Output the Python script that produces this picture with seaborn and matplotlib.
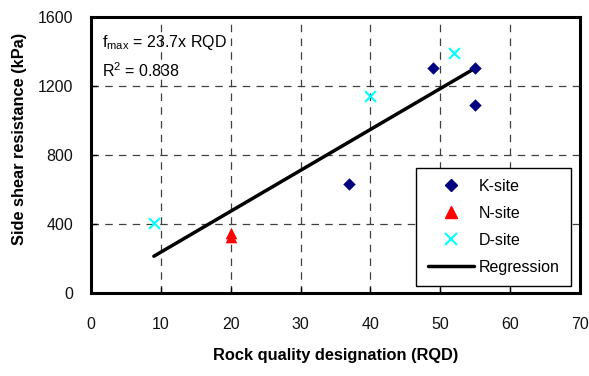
import matplotlib
matplotlib.use("Agg")
import matplotlib.pyplot as plt
import seaborn as sns
import pandas as pd
import numpy as np
from matplotlib.lines import Line2D

sns.set_theme(style="white")
plt.rcParams['font.family'] = ['Liberation Sans', 'DejaVu Sans']
plt.rcParams['mathtext.fontset'] = 'custom'
plt.rcParams['mathtext.rm'] = 'Liberation Sans'
plt.rcParams['text.color'] = 'black'
plt.rcParams['axes.labelcolor'] = 'black'

k_rqd = [37, 49, 55, 55]
k_fs = [630, 1305, 1305, 1090]
n_rqd = [20, 20]
n_fs = [325, 350]
d_rqd = [9, 40, 52]
d_fs = [408, 1140, 1392]
reg_slope = 23.7
reg_x = [9, 55]
x_ticks = [0, 10, 20, 30, 40, 50, 60, 70]
y_ticks = [0, 400, 800, 1200, 1600]

df = pd.DataFrame({
    "RQD": k_rqd + n_rqd + d_rqd,
    "fs": k_fs + n_fs + d_fs,
    "site": ["K-site"] * len(k_rqd) + ["N-site"] * len(n_rqd) + ["D-site"] * len(d_rqd),
})
reg_df = pd.DataFrame({"RQD": reg_x, "fs": [reg_slope * v for v in reg_x]})

fig = plt.figure(figsize=(5.89, 3.76), dpi=100)
ax = fig.add_axes([0.1545, 0.2207, 0.8302, 0.7341])

sns.lineplot(data=reg_df, x="RQD", y="fs", ax=ax, color="black", lw=2.5, zorder=2, legend=False)
colors = {"K-site": "#000080", "N-site": "#ff0000", "D-site": "#00ffff"}
markers = {"K-site": "D", "N-site": "^", "D-site": "x"}
sizes = {"K-site": 40, "N-site": 70, "D-site": 60}
for site in ["K-site", "N-site", "D-site"]:
    sub = df[df.site == site]
    sns.scatterplot(data=sub, x="RQD", y="fs", ax=ax, color=colors[site], marker=markers[site],
                    s=sizes[site], linewidth=1.5 if site == "D-site" else 0, zorder=3, legend=False)

ax.set_xlim(0, 70)
ax.set_ylim(0, 1600)
ax.set_xticks(x_ticks)
ax.set_yticks(y_ticks)
ax.grid(True, color="#404040", linestyle=(0, (6, 5)), linewidth=0.9)
for s in ax.spines.values():
    s.set_visible(True)
    s.set_color("black")
    s.set_linewidth(2.2)
ax.tick_params(axis="x", direction="in", length=4, width=1, pad=17, labelsize=11.5, colors="black", bottom=True)
ax.tick_params(axis="y", direction="in", length=4, width=1, pad=13, labelsize=11.5, colors="black", left=True)
for lbl in ax.get_xticklabels() + ax.get_yticklabels():
    lbl.set_color("#111111")

ax.set_xlabel("Rock quality designation (RQD)", fontsize=11.8, fontweight="bold", labelpad=12, color="black")
ax.set_ylabel("Side shear resistance (kPa)", fontsize=11.8, fontweight="bold", color="black")
ax.yaxis.set_label_coords(-0.13, 0.56)

ax.text(1.6, 1455, r"f$_{\mathregular{max}}$ = 23.7x RQD", fontsize=11.5, ha="left", va="center", color="black")
ax.text(1.6, 1287, r"R$^{2}$ = 0.838", fontsize=11.5, ha="left", va="center", color="black")

handles = [
    Line2D([], [], color=colors["K-site"], marker="D", linestyle="none", markersize=6),
    Line2D([], [], color=colors["N-site"], marker="^", linestyle="none", markersize=8),
    Line2D([], [], color=colors["D-site"], marker="x", linestyle="none", markersize=8, markeredgewidth=1.5),
    Line2D([], [], color="black", lw=2.5),
]
leg = ax.legend(handles, ["K-site", "N-site", "D-site", "Regression"], loc="lower right",
                bbox_to_anchor=(0.981, 0.025), fontsize=11.5, frameon=True, fancybox=False,
                edgecolor="black", framealpha=1, borderpad=0.7, labelspacing=0.75,
                handlelength=2.9, handletextpad=0.3, borderaxespad=0)
leg.get_frame().set_linewidth(1.0)
for t in leg.get_texts():
    t.set_color("black")

fig.savefig("out.png", dpi=100)
